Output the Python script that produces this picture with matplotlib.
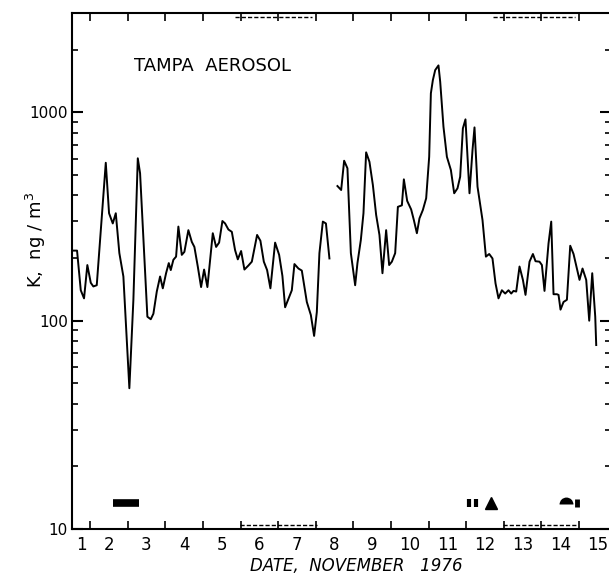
import matplotlib
matplotlib.use('Agg')
import matplotlib.pyplot as plt
from matplotlib.ticker import FixedLocator, NullFormatter, LogLocator
import numpy as np

# day of November (x = d is midnight starting Nov d), K concentration in ng/m3
days_a = [1.548, 1.654, 1.753, 1.840, 1.928, 2.019, 2.088, 2.178, 2.418, 2.505,
          2.604, 2.684, 2.779, 2.886, 3.045, 3.152, 3.269, 3.330, 3.524, 3.614,
          3.684, 3.774, 3.862, 3.934, 4.021, 4.093, 4.146, 4.215, 4.287, 4.348,
          4.439, 4.508, 4.614, 4.705, 4.774, 4.864, 4.952, 5.032, 5.120, 5.263,
          5.351, 5.431, 5.519, 5.590, 5.678, 5.769, 5.856, 5.928, 6.016, 6.104,
          6.210, 6.301, 6.441, 6.529, 6.620, 6.707, 6.795, 6.920, 7.027, 7.114,
          7.186, 7.364, 7.434, 7.540, 7.630, 7.763, 7.870, 7.957, 8.029, 8.098,
          8.189, 8.271, 8.364]
k_a = [217, 217, 140, 128, 185, 152, 146, 148, 573, 328,
       293, 328, 211, 163, 47.4, 126, 602, 510, 104.5, 101.6,
       108, 138, 163, 143, 169, 189, 175, 196, 203, 283,
       207, 214, 272, 239, 226, 182, 145, 176, 145, 263,
       226, 237, 301, 293, 274, 267, 218, 197, 216, 176,
       184, 192, 258, 242, 192, 175, 143, 237, 207, 164,
       116, 140, 187, 178, 174, 123, 106.5, 84.5, 110, 211,
       299, 293, 199]

days_b = [8.577, 8.676, 8.755, 8.843, 8.934, 9.048, 9.109, 9.199, 9.269, 9.340,
          9.428, 9.519, 9.606, 9.694, 9.774, 9.872, 9.952, 10.024, 10.112, 10.184,
          10.290, 10.343, 10.431, 10.537, 10.609, 10.689, 10.758, 10.848, 10.936, 11.016,
          11.061, 11.114, 11.176, 11.263, 11.309, 11.396, 11.487, 11.593, 11.681, 11.769,
          11.840, 11.912, 11.981, 12.088, 12.168, 12.221, 12.301, 12.434, 12.524, 12.612,
          12.699, 12.780, 12.859, 12.949, 13.037, 13.125, 13.197, 13.258, 13.330, 13.418,
          13.508, 13.577, 13.684, 13.774, 13.843, 13.949, 14.013, 14.082, 14.189, 14.261,
          14.322, 14.412, 14.455, 14.508, 14.588, 14.678, 14.766, 14.854, 15.013, 15.093,
          15.191, 15.271, 15.351, 15.431, 15.457]
k_b = [443, 424, 586, 539, 211, 148, 189, 244, 328, 643,
       579, 448, 322, 258, 169, 272, 185, 192, 211, 352,
       358, 477, 376, 342, 304, 263, 310, 340, 387, 612,
       1234, 1429, 1596, 1681, 1403, 853, 612, 529, 409, 432,
       491, 838, 926, 409, 659, 847, 440, 304, 203, 209,
       199, 151, 128, 140, 135, 140, 135, 139, 138, 182,
       157, 133, 192, 209, 193, 192, 185, 139, 235, 299,
       134, 134, 133, 113, 123, 126, 229, 209, 157, 178,
       157, 100, 169, 104.5, 76.4]

# weather symbols along the bottom
rain_start, rain_end = 2.62, 3.30
bars_days = [12.08, 12.25]
tri_day = 12.65
half_day = 14.65
bar_day = 14.95
symbol_k = 13.4

# dashed stretches along the top and bottom frame
top_dashed = [(5.86, 7.90), (12.72, 14.90)]
bottom_dashed = [(5.99, 8.03), (12.98, 14.95)]

day_labels = [str(d) for d in range(1, 16)]

fig = plt.figure(figsize=(6.09, 5.79), dpi=100)
ax = fig.add_axes([72 / 609, 50 / 579, 539 / 609, 516 / 579])

ax.plot(days_a, k_a, color='black', lw=1.4)
ax.plot(days_b, k_b, color='black', lw=1.4)

ax.plot([rain_start, rain_end], [symbol_k, symbol_k], color='black', lw=5.5,
        solid_capstyle='butt')
ax.plot(bars_days, [symbol_k] * 2, ls='none', marker='|', ms=6, mew=3, color='black')
ax.plot([tri_day], [symbol_k], ls='none', marker='^', ms=8, color='black')
ax.plot([half_day], [symbol_k * 0.985], ls='none', marker='o', ms=10, fillstyle='top',
        markerfacecoloralt='none', markeredgewidth=0, color='black')
ax.plot([bar_day], [symbol_k], ls='none', marker='|', ms=6, mew=3.5, color='black')

ax.set_yscale('log')
ax.set_xlim(1.52, 15.85)
ax.set_ylim(10, 3000)

for x0, x1 in top_dashed:
    ax.plot([x0, x1], [2880, 2880], color='black', lw=1.0, ls=(0, (3, 1.5)),
            solid_capstyle='butt')
for x0, x1 in bottom_dashed:
    ax.plot([x0, x1], [10.4, 10.4], color='black', lw=1.0, ls=(0, (3, 1.5)),
            solid_capstyle='butt')

for s in ax.spines.values():
    s.set_linewidth(1.5)
ax.spines['right'].set_visible(False)

ax.xaxis.set_major_locator(FixedLocator(np.arange(2, 16)))
ax.xaxis.set_major_formatter(NullFormatter())
ax.set_xticks([1.77] + list(np.arange(2, 16) + 0.5), labels=day_labels, minor=True)
ax.tick_params(axis='x', which='major', direction='in', length=6, width=1.2,
               top=True, bottom=True)
ax.tick_params(axis='x', which='minor', length=0, pad=5, labelsize=12)

ax.set_yticks([10, 100, 1000], labels=['10', '100', '1000'])
ax.yaxis.set_minor_locator(LogLocator(base=10, subs=np.arange(2, 10)))
ax.yaxis.set_minor_formatter(NullFormatter())
ax.tick_params(axis='y', which='major', direction='in', length=8, width=1.5,
               left=True, right=True, labelsize=11, pad=3)
ax.tick_params(axis='y', which='minor', direction='in', length=4, width=1.2,
               left=True, right=True)

fig.text(212 / 609, 1 - 66 / 579, 'TAMPA  AEROSOL', ha='center', va='center',
         fontsize=13)
fig.text(36 / 609, 1 - 240 / 579, 'K,  ng / m$^3$', rotation=90,
         ha='center', va='center', fontsize=13)
fig.text(356 / 609, 1 - 566 / 579, 'DATE,  NOVEMBER   1976', ha='center',
         va='center', fontsize=12, style='italic')

fig.savefig('out.png', dpi=100)
